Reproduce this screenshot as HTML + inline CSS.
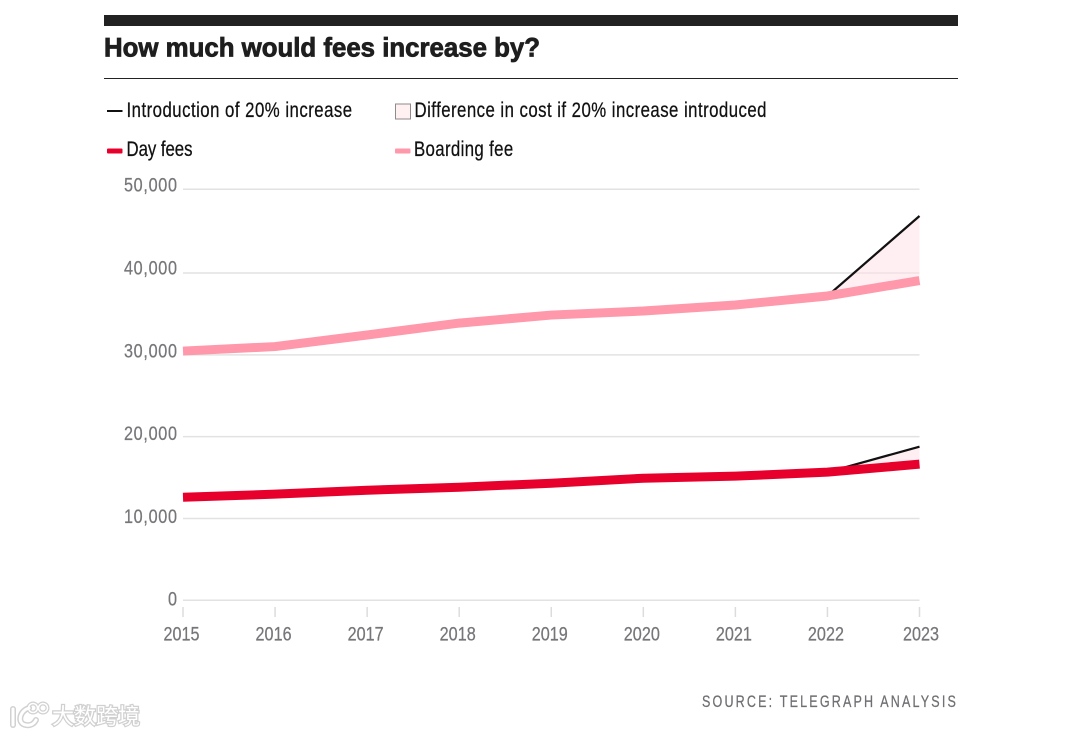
<!DOCTYPE html>
<html lang="en">
<head>
<meta charset="utf-8">
<title>How much would fees increase by?</title>
<style>
html,body{margin:0;padding:0;background:#fff;width:1080px;height:736px;overflow:hidden}
svg{display:block}
text{font-family:"Liberation Sans",sans-serif}
</style>
</head>
<body>
<svg id="chart" width="1080" height="736" viewBox="0 0 1080 736" xmlns="http://www.w3.org/2000/svg">
  <rect x="104" y="15" width="854" height="11" fill="#222222"/>
  <text x="104" y="56.5" font-size="26.5" font-weight="700" fill="#1e1e1e" stroke="#1e1e1e" stroke-width="0.8" textLength="436" lengthAdjust="spacingAndGlyphs">How much would fees increase by?</text>
  <rect x="104" y="78" width="854" height="1" fill="#222222"/>

  <g stroke="#111111" stroke-width="0.25">
    <rect x="107" y="110" width="15.5" height="2" fill="#111111" stroke="none"/>
    <text transform="translate(126.5 117) scale(0.8 1)" font-size="21" fill="#111111" textLength="282" lengthAdjust="spacing">Introduction of 20% increase</text>
    <rect x="395.500" y="104" width="15" height="15" fill="#fff0f2" stroke="#8f8a8c" stroke-width="1"/>
    <text transform="translate(414.5 117) scale(0.8 1)" font-size="21" fill="#111111" textLength="440" lengthAdjust="spacing">Difference in cost if 20% increase introduced</text>
    <rect x="107" y="148.500" width="15.500" height="5" rx="1" fill="#e8002d" stroke="none"/>
    <text transform="translate(126.5 156) scale(0.8 1)" font-size="21" fill="#111111" textLength="82.500" lengthAdjust="spacing">Day fees</text>
    <rect x="395" y="148.500" width="15.500" height="5" rx="1" fill="#ff98aa" stroke="none"/>
    <text transform="translate(414 156) scale(0.8 1)" font-size="21" fill="#111111" textLength="124" lengthAdjust="spacing">Boarding fee</text>
  </g>

  <g id="grid"></g>
  <g id="yLabels"></g>
  <g id="xAxis"></g>
  <g id="series"></g>

  <text transform="translate(702 707) scale(0.76 1)" font-size="16.5" fill="#6f6f73" stroke="#6f6f73" stroke-width="0.25" textLength="334" lengthAdjust="spacing">SOURCE: TELEGRAPH ANALYSIS</text>

  <g opacity="0.9">
    <g fill="none" stroke="#cdcdcd" stroke-width="6" stroke-linecap="round">
      <path d="M13 709 L13 725"/>
      <path d="M29 708 C19 711 17 724 26 725 C30 726 34 724 36 720"/>
      <circle cx="33" cy="708" r="4.500" stroke-width="4"/>
      <circle cx="43" cy="708" r="4.500" stroke-width="4"/>
    </g>
    <g fill="none" stroke="#ffffff" stroke-width="3" stroke-linecap="round">
      <path d="M13 709 L13 725"/>
      <path d="M29 708 C19 711 17 724 26 725 C30 726 34 724 36 720"/>
      <circle cx="33" cy="708" r="4.500" stroke-width="1.500"/>
      <circle cx="43" cy="708" r="4.500" stroke-width="1.500"/>
    </g>
    <text x="52" y="724" font-size="22" fill="#ffffff" stroke="#cccccc" stroke-width="2.500" paint-order="stroke" textLength="88" lengthAdjust="spacingAndGlyphs" style="font-family:'Liberation Sans','Noto Sans CJK SC',sans-serif">大数跨境</text>
  </g>
</svg>

<script>
const years = ["2015","2016","2017","2018","2019","2020","2021","2022","2023"];
const yTicks = [0,10000,20000,30000,40000,50000];
const yTickLabels = ["0","10,000","20,000","30,000","40,000","50,000"];
const boardingFees = [30460,31010,32420,33880,34860,35350,36090,37190,39080];
const dayFees = [12600,12970,13450,13820,14310,14920,15170,15660,16640];
const boardingIncreaseYears = ["2022","2023"];
const boardingIncreaseValues = [37190,46810];
const dayIncreaseYears = ["2022","2023"];
const dayIncreaseValues = [15660,18780];

const NS = "http://www.w3.org/2000/svg";
const xStart = 183, xEnd = 919.5;
const tickGlyphScale = 0.83;
function xScale(year){
  return xStart + years.indexOf(year) * (xEnd - xStart) / (years.length - 1);
}
function yScale(v){
  if (v <= 40000) return 600.3 - v * (600.3 - 273) / 40000;
  return 273 - (v - 40000) * (273 - 189.3) / 10000;
}
function yLabelBaseline(t){
  return 605.7 - t * 82.8 / 10000;
}
function make(tag, attrs, parent){
  const el = document.createElementNS(NS, tag);
  for (const k in attrs) el.setAttribute(k, attrs[k]);
  parent.appendChild(el);
  return el;
}
const grid = document.getElementById('grid');
const yLabels = document.getElementById('yLabels');
const xAxis = document.getElementById('xAxis');
const series = document.getElementById('series');

yTicks.forEach(function(t, i){
  const line = make('line', {x1:xStart, x2:xEnd, y1:yScale(t), y2:yScale(t), stroke:'#e2e2e2', 'stroke-width':1.5}, grid);
  
  
  const label = make('text', {transform:'translate(177 ' + yLabelBaseline(t) + ') scale(' + tickGlyphScale + ' 1)', 'text-anchor':'end', 'font-size':19.5, fill:'#76767a', stroke:'#76767a', 'stroke-width':0.25}, yLabels);
  if (yTickLabels[i].length > 1) label.setAttribute('textLength', (53 / tickGlyphScale).toFixed(1));
  
  
  label.textContent = yTickLabels[i];
});

years.forEach(function(year, i){
  const x = xScale(year);
  const tick = make('line', {x1:x, x2:x, y1:607, y2:617, stroke:'#dcdcdc', 'stroke-width':1.5}, xAxis);
  
  
  const shift = i === years.length - 1 ? 1.5 : -1.5;
  const label = make('text', {transform:'translate(' + (x + shift) + ' 640.5) scale(' + tickGlyphScale + ' 1)', 'text-anchor':'middle', 'font-size':19.5, fill:'#76767a', stroke:'#76767a', 'stroke-width':0.25, textLength:(36 / tickGlyphScale).toFixed(1)}, xAxis);
  
  
  label.textContent = year;
});

function linePath(xs, vals){
  return xs.map(function(y, i){
    return (i ? 'L' : 'M') + xScale(y).toFixed(2) + ' ' + yScale(vals[i]).toFixed(2);
  }).join(' ');
}
function areaPath(incYears, incVals, base){
  let d = linePath(incYears, incVals);
  for (let i = incYears.length - 1; i >= 0; i--) {
    d += ' L' + xScale(incYears[i]).toFixed(2) + ' ' + yScale(base[years.indexOf(incYears[i])]).toFixed(2);
  }
  return d + ' Z';
}

const boardingArea = make('path', {d:areaPath(boardingIncreaseYears, boardingIncreaseValues, boardingFees), fill:'#ffe0e6', 'fill-opacity':0.5}, series);


const dayArea = make('path', {d:areaPath(dayIncreaseYears, dayIncreaseValues, dayFees), fill:'#ffe0e6', 'fill-opacity':0.5}, series);



const boardingInc = make('path', {d:linePath(boardingIncreaseYears, boardingIncreaseValues), fill:'none', stroke:'#111111', 'stroke-width':2.2}, series);


const dayInc = make('path', {d:linePath(dayIncreaseYears, dayIncreaseValues), fill:'none', stroke:'#111111', 'stroke-width':2.2}, series);



const boardingLine = make('path', {d:linePath(years, boardingFees), fill:'none', stroke:'#ff98aa', 'stroke-width':9, 'stroke-linejoin':'round'}, series);


const dayLine = make('path', {d:linePath(years, dayFees), fill:'none', stroke:'#e8002d', 'stroke-width':9, 'stroke-linejoin':'round'}, series);


</script>
</body>
</html>
